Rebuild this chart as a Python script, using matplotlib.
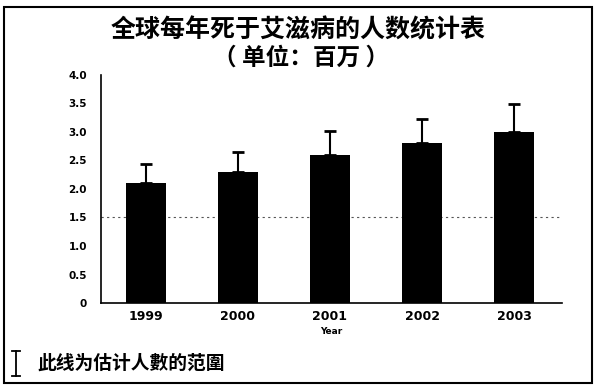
import matplotlib.pyplot as plt
import numpy as np
from matplotlib.patches import Rectangle

plt.rcParams['font.family'] = ['Noto Sans CJK SC', 'DejaVu Sans']

# 数据（单位：百万）
years = ["1999", "2000", "2001", "2002", "2003"]
deaths = [2.1, 2.3, 2.6, 2.8, 3.0]
upper = [2.44, 2.65, 3.02, 3.23, 3.49]
yticks = [0, 0.5, 1.0, 1.5, 2.0, 2.5, 3.0, 3.5, 4.0]
ytick_labels = ["0", "0.5", "1.0", "1.5", "2.0", "2.5", "3.0", "3.5", "4.0"]

fig = plt.figure(figsize=(5.96, 3.90), dpi=100)
ax = fig.add_axes([0.169, 0.223, 0.774, 0.585])

x = np.arange(len(years))
err = [u - d for u, d in zip(upper, deaths)]
ax.bar(x, deaths, width=0.44, color="black", zorder=2)
ax.errorbar(x, deaths, yerr=[np.zeros(len(err)), err], fmt="none",
            ecolor="black", elinewidth=1.5, capsize=4, capthick=2, zorder=3)

# 1.5 处的虚线
ax.axhline(1.5, color="#555555", linestyle=(0, (2, 3)), linewidth=0.8, zorder=1)

ax.set_xlim(-0.49, 4.52)
ax.set_ylim(0, 4.0)
ax.set_xticks(x)
ax.set_xticklabels(years, fontsize=9, fontweight="bold", family="DejaVu Sans")
ax.set_yticks(yticks)
ax.set_yticklabels(ytick_labels, fontsize=7.5, fontweight="bold", family="DejaVu Sans")
ax.tick_params(axis="both", length=0, pad=10)
ax.tick_params(axis="x", pad=5)
ax.spines["top"].set_visible(False)
ax.spines["right"].set_visible(False)
ax.spines["left"].set_linewidth(1.2)
ax.spines["bottom"].set_linewidth(1.2)
ax.set_xlabel("Year", fontsize=6.5, fontweight="bold", family="DejaVu Sans", labelpad=3)

fig.text(0.50, 0.923, "全球每年死于艾滋病的人数统计表", ha="center", va="center",
         fontsize=18, fontweight="bold")
fig.text(0.505, 0.852, "（ 单位：百万 ）", ha="center", va="center",
         fontsize=17, fontweight="bold")

# 图例：误差线符号
fig.text(0.062, 0.068, "此线为估计人數的范圍", ha="left", va="center",
         fontsize=13.5, fontweight="bold")
lx = 0.027
fig.add_artist(plt.Line2D([lx, lx], [0.035, 0.100], color="black", lw=1.3))
fig.add_artist(plt.Line2D([lx - 0.007, lx + 0.007], [0.100, 0.100], color="black", lw=1.3))
fig.add_artist(plt.Line2D([lx - 0.007, lx + 0.007], [0.035, 0.035], color="black", lw=1.3))

# 外框
fig.add_artist(Rectangle((0.006, 0.018), 0.988, 0.965, transform=fig.transFigure,
                         fill=False, edgecolor="black", linewidth=1.5))

fig.savefig("out.png", dpi=100)
